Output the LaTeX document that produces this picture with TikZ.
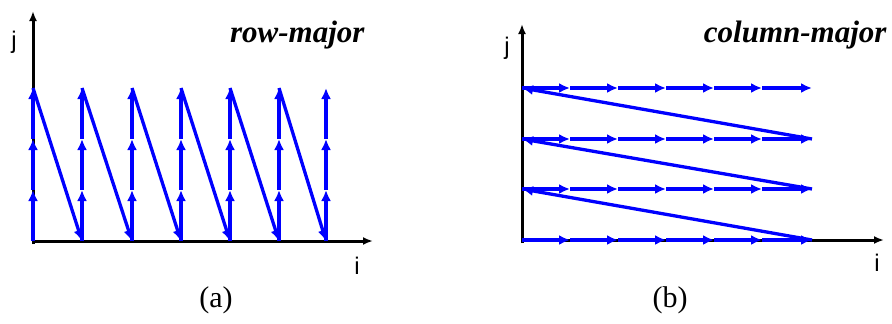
\documentclass[tikz,border=0pt]{standalone}
\usepackage{fontspec}
\setmainfont{Liberation Serif}
\newfontfamily\axisfont{Liberation Sans}
\usetikzlibrary{arrows.meta}

\tikzset{
    axis/.style={line width=3pt, -{Latex[length=10pt,width=8pt]}},
    flow/.style={blue, line width=3.3pt, -{Latex[length=11pt,width=10pt]}},
    axislabel/.style={font=\axisfont\fontsize{24}{24}\selectfont},
    ordername/.style={font=\fontsize{31}{31}\selectfont\bfseries\itshape, anchor=east},
    caption/.style={font=\fontsize{30}{30}\selectfont}
}

\begin{document}
\begin{tikzpicture}[x=1pt, y=-1pt]
    \useasboundingbox (0,0) rectangle (892,324);

    % (a) row-major
    \coordinate (a-o) at (33,241);
    \coordinate (a-xend) at (373,241);
    \coordinate (a-yend) at (33,11);
    \draw[axis] (33,244) -- (a-yend);
    \draw[axis] (a-o) -- (a-xend);
    \node[axislabel] (a-j) at (14,42) {j};
    \node[axislabel] (a-i) at (357,266) {i};
    \node[ordername] (a-name) at (368,35) {row-major};
    \node[caption] (a-cap) at (216,300) {(a)};

    \foreach \c/\x in {0/33, 1/82, 2/132, 3/181, 4/230, 5/279, 6/326} {
        \foreach \r/\y in {0/241, 1/190, 2/139, 3/88} {
            \coordinate (a-\c-\r) at (\x,\y);
        }
    }
    % columns upwards
    \foreach \c in {0,...,6} {
        \draw[flow] (a-\c-0) -- (a-\c-1);
        \draw[flow] (a-\c-1) -- (a-\c-2);
        \draw[flow] (a-\c-2) -- (a-\c-3);
    }
    % jump to next column
    \foreach \c [evaluate=\c as \n using int(\c+1)] in {0,...,5} {
        \draw[flow] (a-\c-3) -- (a-\n-0);
    }

    % (b) column-major
    \coordinate (b-o) at (522,240);
    \coordinate (b-xend) at (884,240);
    \coordinate (b-yend) at (522,24);
    \draw[axis] (522,243) -- (b-yend);
    \draw[axis] (b-o) -- (b-xend);
    \node[axislabel] (b-j) at (507,48) {j};
    \node[axislabel] (b-i) at (877,263) {i};
    \node[ordername] (b-name) at (890,35) {column-major};
    \node[caption] (b-cap) at (670,300) {(b)};

    \foreach \c/\x in {0/522, 1/570, 2/618, 3/666, 4/714, 5/762, 6/812} {
        \foreach \r/\y in {0/240, 1/189, 2/139, 3/88} {
            \coordinate (b-\c-\r) at (\x,\y);
        }
    }
    % rows to the right
    \foreach \r in {0,...,3} {
        \foreach \c [evaluate=\c as \n using int(\c+1)] in {0,...,5} {
            \draw[flow] (b-\c-\r) -- (b-\n-\r);
        }
    }
    % jump back to next row
    \foreach \r [evaluate=\r as \n using int(\r+1)] in {0,...,2} {
        \draw[flow] (b-6-\r) -- (b-0-\n);
    }
\end{tikzpicture}
\end{document}
